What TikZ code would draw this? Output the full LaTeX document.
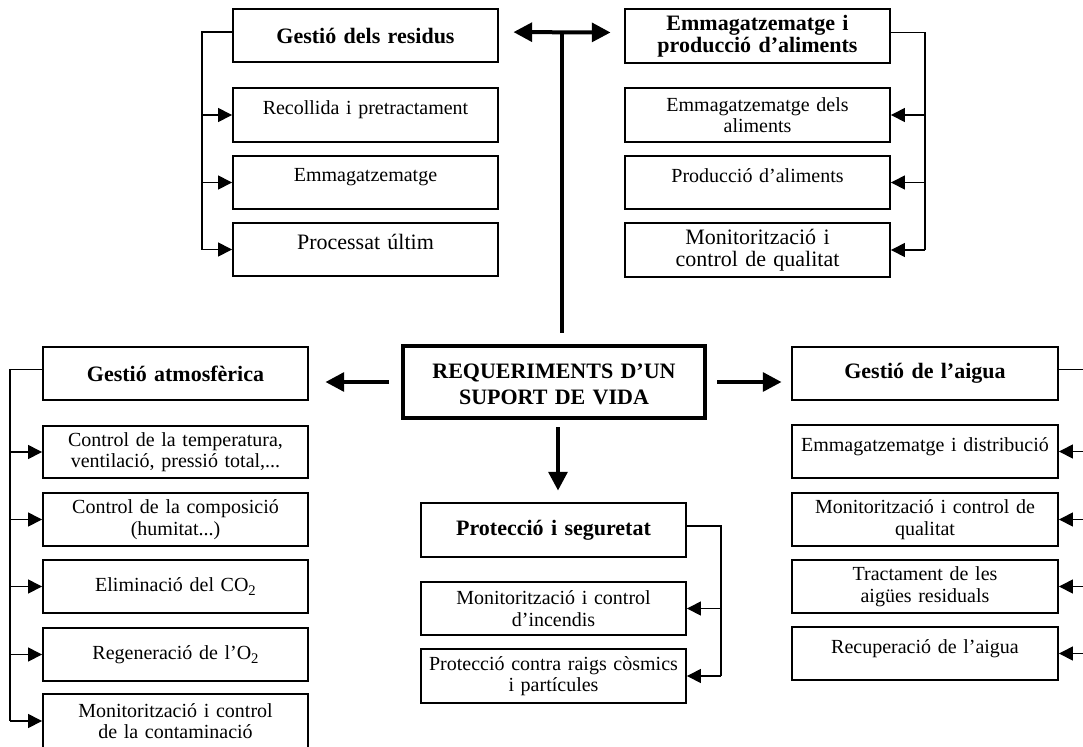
\documentclass[tikz,border=0pt]{standalone}
\usepackage{fontspec}
\setmainfont{Liberation Serif}
\usetikzlibrary{arrows.meta}

% Box placed by its corners (x1,y1) and (x2,y2), in pixel units
\newcommand\boxat[7]{%
  \pgfmathsetmacro\boxW{(#5-#3)*0.75}%
  \pgfmathsetmacro\boxH{(#6-#4)*0.75}%
  \pgfmathsetmacro\boxT{(#5-#3)*0.75-4}%
  \node[#2, minimum width=\boxW pt, minimum height=\boxH pt, text width=\boxT pt]
    (#1) at ({(#3+#5)/2},{(#4+#6)/2}) {#7};}
% empty second line that keeps a one-line text in the upper half of its box
\newcommand\blankline{\\[-5pt]\mbox{}}
% low subscript digit
\newcommand\lowsub[1]{\raisebox{-0.45ex}{\fontsize{11}{11}\selectfont #1}}

\tikzset{
  every node/.style={inner xsep=2pt, inner ysep=0pt, align=center},
  sub/.style={draw, rectangle, line width=1.4pt, font=\fontsize{15}{16.1}\selectfont},
  subbig/.style={sub, font=\fontsize{16.5}{16.5}\selectfont},
  head/.style={draw, rectangle, line width=2.2pt, font=\fontsize{16.5}{16.5}\selectfont\bfseries},
  core/.style={draw, rectangle, line width=3pt, font=\fontsize{16.5}{19.5}\selectfont\bfseries},
  wire/.style={line width=1pt},
  feed/.style={wire, -{Triangle[length=10.5pt,width=10.5pt]}},
  thick link/.style={line width=3pt},
  bigarrow/.style={thick link, -{Triangle[length=14pt,width=14pt]}},
  bigboth/.style={thick link, {Triangle[length=14pt,width=14pt]}-{Triangle[length=14pt,width=14pt]}},
}

\begin{document}
\begin{tikzpicture}[x=0.75pt,y=-0.75pt]
\useasboundingbox (0,0) rectangle (1083,747);

% ---- waste management ----
\boxat{ws}{head}{233}{9}{498}{62}{Gestió dels residus}
\boxat{ws1}{sub}{233}{88}{498}{142}{Recollida i pretractament\blankline}
\boxat{ws2}{sub}{233}{156}{498}{209}{Emmagatzematge\blankline}
\boxat{ws3}{subbig}{233}{223}{498}{276}{Processat últim\blankline}

% ---- food ----
\boxat{fd}{head}{625}{9}{890}{63}{Emmagatzematge i\\producció d’aliments}
\boxat{fd1}{sub}{625}{88}{890}{142}{Emmagatzematge dels\\aliments}
\boxat{fd2}{sub}{625}{156}{890}{209}{Producció d’aliments\blankline}
\boxat{fd3}{subbig}{625}{223}{890}{277}{Monitorització i\\control de qualitat}

% ---- centre ----
\boxat{req}{core}{403}{346}{705}{418}{\rule{0pt}{14pt}REQUERIMENTS D’UN\\SUPORT DE VIDA}

% ---- atmosphere ----
\boxat{at}{head}{43}{347}{308}{400}{Gestió atmosfèrica}
\boxat{at1}{sub}{43}{426}{308}{478}{Control de la temperatura,\\ventilació, pressió total,...}
\boxat{at2}{sub}{43}{493}{308}{546}{Control de la composició\\(humitat...)}
\boxat{at3}{sub}{43}{560}{308}{613}{Eliminació del CO\lowsub{2}}
\boxat{at4}{sub}{43}{628}{308}{681}{Regeneració de l’O\lowsub{2}}
\boxat{at5}{sub}{43}{694}{308}{748}{Monitorització i control\\de la contaminació}

% ---- protection ----
\boxat{pr}{head}{421}{503}{686}{557}{Protecció i seguretat}
\boxat{pr1}{sub}{421}{582}{686}{635}{Monitorització i control\\d’incendis}
\boxat{pr2}{sub}{421}{649}{686}{703}{Protecció contra raigs còsmics\\i partícules}

% ---- water ----
\boxat{wa}{head}{792}{347}{1058}{400}{Gestió de l’aigua}
\boxat{wa1}{sub}{792}{425}{1058}{478}{Emmagatzematge i distribució\blankline}
\boxat{wa2}{sub}{792}{493}{1058}{546}{Monitorització i control de\\qualitat}
\boxat{wa3}{sub}{792}{560}{1058}{613}{Tractament de les\\aigües residuals}
\boxat{wa4}{sub}{792}{627}{1058}{680}{Recuperació de l’aigua\blankline}

% ---- main arrows ----
\coordinate (hub) at (562,32);
\draw[thick link, shorten >=8.25pt] (hub) -- (hub |- req.north);
\draw[bigboth, shorten <=10.5pt, shorten >=9.75pt]
  ([yshift=2.6pt]ws.east) -- ([yshift=2.6pt]fd.west);
\draw[bigarrow, shorten <=9pt, shorten >=12pt] (req.west) -- (req.west -| at.east);
\draw[bigarrow, shorten <=7.5pt, shorten >=6.75pt] (req.east) -- (req.east -| wa.west);
\draw[bigarrow, shorten <=5.25pt, shorten >=8.25pt]
  ([xshift=3pt]req.south) -- ([xshift=3pt]req.south |- pr.north);

% ---- branch brackets ----
\coordinate (wsbar) at (202,0);
\draw[wire] ([yshift=2.6pt]ws.west) -| (wsbar |- ws3.west);
\foreach \n in {ws1,ws2,ws3} \draw[feed] (wsbar |- \n.west) -- (\n.west);

\coordinate (fdbar) at (925,0);
\draw[wire] ([yshift=2.6pt]fd.east) -| (fdbar |- fd3.east);
\foreach \n in {fd1,fd2,fd3} \draw[feed] (fdbar |- \n.east) -- (\n.east);

\coordinate (atbar) at (10,0);
\draw[wire] ([yshift=3pt]at.west) -| (atbar |- at5.west);
\foreach \n in {at1,at2,at3,at4,at5} \draw[feed] (atbar |- \n.west) -- (\n.west);

\coordinate (prbar) at (721,0);
\draw[wire] ([yshift=3pt]pr.east) -| (prbar |- pr2.east);
\foreach \n in {pr1,pr2} \draw[feed] (prbar |- \n.east) -- (\n.east);

\coordinate (wabar) at (1090,0);
\draw[wire] ([yshift=3pt]wa.east) -| (wabar |- wa4.east);
\foreach \n in {wa1,wa2,wa3,wa4} \draw[feed] (wabar |- \n.east) -- (\n.east);
\end{tikzpicture}
\end{document}
